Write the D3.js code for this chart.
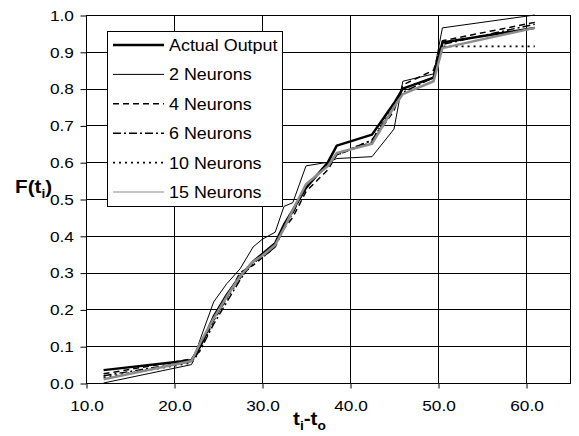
<!DOCTYPE html>
<html>
<head>
<meta charset="utf-8">
<script src="https://cdn.jsdelivr.net/npm/d3@7"></script>
<style>
  body { margin: 0; background: #fff; }
  svg text { font-family: "Liberation Sans", Arial, sans-serif; fill: #000; }
</style>
</head>
<body>
<svg id="graph" width="579" height="436"></svg>
<script>
// time values (t_i - t_o) shared by all series
var times = [12, 22, 23, 24.5, 26, 27.5, 29, 30, 31.5, 32.5, 33.5, 35, 37.5, 38.5, 42.5, 45, 46, 49.5, 50.5, 61];

var actualOutput = [.035, .062, .10, .18, .24, .29, .33, .35, .38, .43, .47, .53, .60, .645, .675, .76, .80, .83, .925, .965];
var neurons2  = [.000, .050, .12, .22, .27, .31, .37, .39, .41, .48, .49, .59, .60, .61, .615, .69, .82, .84, .965, 1.0];
var neurons4  = [.025, .065, .10, .17, .23, .30, .32, .34, .37, .42, .45, .52, .58, .62, .655, .74, .81, .85, .93, .98];
var neurons6  = [.020, .058, .09, .16, .22, .28, .33, .34, .37, .43, .46, .54, .59, .62, .66, .75, .79, .83, .92, .975];
var neurons10 = [.015, .055, .09, .17, .23, .285, .325, .345, .38, .425, .465, .535, .595, .62, .66, .755, .80, .83, .915, .915];
var neurons15 = [.010, .060, .11, .175, .235, .29, .33, .345, .375, .42, .47, .54, .59, .625, .65, .75, .785, .82, .91, .965];

var seriesNames = ['Actual Output', '2 Neurons', '4 Neurons', '6 Neurons', '10 Neurons', '15 Neurons'];
var xTicks = [10, 20, 30, 40, 50, 60];
var yTicks = [0, .1, .2, .3, .4, .5, .6, .7, .8, .9, 1.0];

/*************************************************/

var styles = [
  { stroke: '#000', width: 2.5, dash: null, legendWidth: 2.5 },
  { stroke: '#000', width: 1, dash: null, legendWidth: 1 },
  { stroke: '#000', width: 1.5, dash: '6,4', legendWidth: 1.5 },
  { stroke: '#000', width: 1.5, dash: '8,3,2,3', legendWidth: 1.5 },
  { stroke: '#000', width: 1.8, dash: '2,4', legendWidth: 1.8 },
  { stroke: '#8c8c8c', width: 2.5, dash: null, legendWidth: 1.2 }
];
var allSeries = [actualOutput, neurons2, neurons4, neurons6, neurons10, neurons15];

var svg = d3.select('#graph');
var plotLeft = 86, plotRight = 570, plotTop = 15, plotBottom = 383;

var xScale = d3.scaleLinear().domain([10, 65]).range([plotLeft, plotRight]);
var yScale = d3.scaleLinear().domain([0, 1]).range([plotBottom, plotTop]);

// gridlines
svg.append('g').selectAll('line').data(yTicks.slice(1)).enter().append('line')
  .attr('x1', plotLeft).attr('x2', plotRight)
  .attr('y1', function(d){ return Math.round(yScale(d)) + .5 }).attr('y2', function(d){ return Math.round(yScale(d)) + .5 })
  .style('stroke', '#000').style('stroke-width', 1);
svg.append('g').selectAll('line').data(xTicks.slice(1)).enter().append('line')
  .attr('y1', plotTop).attr('y2', plotBottom)
  .attr('x1', function(d){ return Math.round(xScale(d)) + .5 }).attr('x2', function(d){ return Math.round(xScale(d)) + .5 })
  .style('stroke', '#000').style('stroke-width', 1);

// plot border
svg.append('rect').attr('x', plotLeft + .5).attr('y', plotTop + .5).attr('width', plotRight - plotLeft).attr('height', plotBottom - plotTop)
  .style('fill', 'none').style('stroke', '#000');

// axes
var xAxis = svg.append('g').attr('transform', 'translate(.5,' + (plotBottom + .5) + ')')
  .call(d3.axisBottom(xScale).tickValues(xTicks).tickSize(5).tickSizeOuter(0).tickFormat(d3.format('.1f')));
var yAxis = svg.append('g').attr('transform', 'translate(' + (plotLeft + .5) + ',.5)')
  .call(d3.axisLeft(yScale).tickValues(yTicks).tickSize(6).tickSizeOuter(0).tickFormat(d3.format('.1f')));
[xAxis, yAxis].forEach(function(ax){
  ax.select('.domain').remove();
  ax.selectAll('line').style('stroke', '#000');
  ax.selectAll('text').style('font-size', '15px').attr('transform', 'scale(1.15,1)');
});
xAxis.selectAll('text').attr('y', 17);
yAxis.selectAll('text').attr('x', -11);

// series lines
var lineGen = d3.line().x(function(d){ return xScale(d.t) }).y(function(d){ return yScale(d.v) });
allSeries.forEach(function(values, i){
  var pts = times.map(function(t, j){ return { t: t, v: values[j] } });
  svg.append('path').attr('d', lineGen(pts))
    .style('fill', 'none').style('stroke', styles[i].stroke).style('stroke-width', styles[i].width)
    .style('stroke-dasharray', styles[i].dash).style('stroke-linejoin', 'round');
});

// legend
var legend = svg.append('g').attr('transform', 'translate(107,31)');
legend.append('rect').attr('x', .5).attr('y', .5).attr('width', 175).attr('height', 175)
  .style('fill', '#fff').style('stroke', '#000');
seriesNames.forEach(function(name, i){
  var y = 14 + i * 29.4;
  legend.append('line').attr('x1', 6).attr('x2', 57).attr('y1', y).attr('y2', y)
    .style('stroke', styles[i].stroke).style('stroke-width', styles[i].legendWidth).style('stroke-dasharray', styles[i].dash);
  legend.append('text').attr('transform', 'translate(62,' + (y + 6) + ') scale(1.12,1)')
    .style('font-size', '16px').text(name);
});

// axis titles
var yTitle = svg.append('text').attr('transform', 'translate(15,193) scale(1.15,1)')
  .style('font-size', '18px').style('font-weight', 'bold');
yTitle.append('tspan').text('F(t');
yTitle.append('tspan').attr('dy', 5).style('font-size', '12px').text('i');
yTitle.append('tspan').attr('dy', -5).text(')');

var xTitle = svg.append('text').attr('transform', 'translate(293,425) scale(1.15,1)')
  .style('font-size', '18px').style('font-weight', 'bold');
xTitle.append('tspan').text('t');
xTitle.append('tspan').attr('dy', 5).style('font-size', '12px').text('i');
xTitle.append('tspan').attr('dy', -5).text('-t');
xTitle.append('tspan').attr('dy', 5).style('font-size', '12px').text('o');
</script>
</body>
</html>
